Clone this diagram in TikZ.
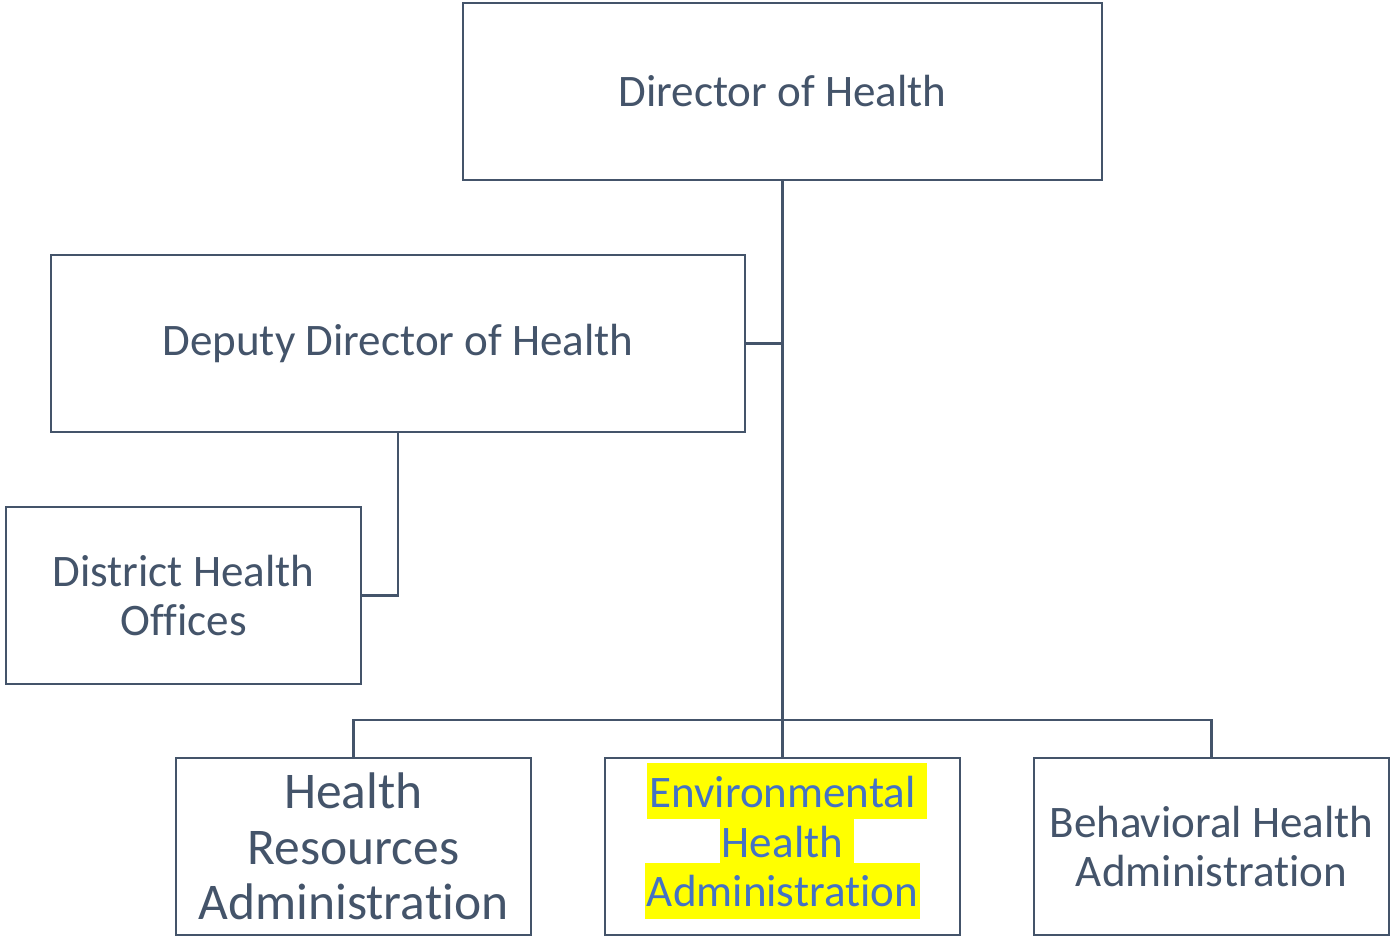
\documentclass[tikz,border=0pt]{standalone}
\usepackage{fontspec}
\setmainfont[Ligatures=NoCommon]{Carlito}
\definecolor{slate}{HTML}{44546A}
\definecolor{hlblue}{HTML}{4472C4}
\definecolor{hlyellow}{HTML}{FFFF00}
\newcommand\hlstrut{\rule[-9pt]{0pt}{42pt}}
\newcommand\hlline[2]{{\setlength\fboxsep{0pt}\vphantom{Ag}\smash{\colorbox{hlyellow}{\hlstrut\kern1.5pt #1\kern1.5pt}}\rlap{\smash{\colorbox{hlyellow}{\hlstrut\hspace{#2}}}}}}
\begin{document}
\begin{tikzpicture}[x=0.75pt,y=-0.75pt,
  box/.style={draw=slate, line width=1.7pt, fill=white, inner sep=0pt, align=center,
    text=slate, font=\fontsize{33.8}{37.2}\selectfont,
    minimum width=266.25pt, minimum height=132.75pt},
  link/.style={draw=slate, line width=2pt}]
\useasboundingbox (0,0) rectangle (1394,937);
\node[box, minimum width=479.25pt] (dir) at (782.5,91.5) {Director of Health};
\node[box, minimum width=520.5pt] (dep) at (398,343.5) {Deputy Director of Health};
\node[box] (dist) at (183.5,595.5) {District Health\\Offices};
\node[box, font=\fontsize{38.6}{41.5}\selectfont] (hra) at (353.5,846.5) {Health\\Resources\\Administration};
\node[box, text=hlblue] (env) at (782.5,846.5) {\hlline{Environmental}{0.2em}\\\hlline{Health}{0.2em}\\\hlline{Administration}{0pt}};
\node[box] (beh) at (1211.5,846.5) {Behavioral Health\\Administration};
\coordinate (bus) at (782.5,720);
\draw[link] (dir.south) -- (bus);
\draw[link] (dep.east) -- (dep.east -| dir.south);
\draw[link] (dep.south) |- (dist.east);
\draw[link] (hra.north) |- (bus) -| (beh.north);
\draw[link] (bus) -- (env.north);
\end{tikzpicture}
\end{document}
